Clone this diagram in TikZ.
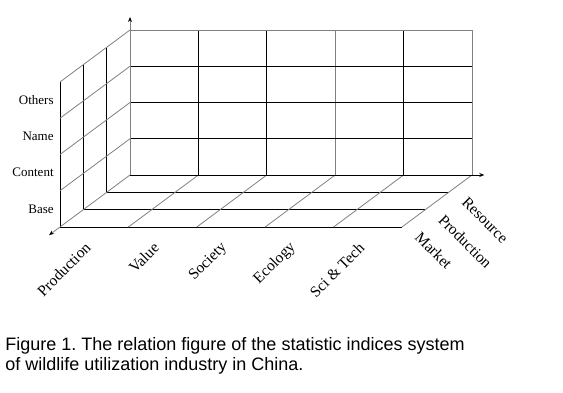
\documentclass[tikz,border=0pt]{standalone}
\usepackage{fontspec}
\setmainfont{Liberation Serif}
\newfontfamily\capfont{Liberation Sans}
\usetikzlibrary{arrows.meta}
\definecolor{gridgray}{gray}{0.5}
\frenchspacing
\begin{document}
\begin{tikzpicture}[>={Stealth[length=5pt,width=4pt,black]},line width=0.8pt,
  x={(68.4pt,0pt)},y={(0pt,36.25pt)},z={(-23.33pt,-17.33pt)},shift={(130pt,218pt)},
  lab/.style={inner sep=0pt,font=\fontsize{13pt}{15pt}\selectfont},
  rowlab/.style={lab,anchor=east},
  collab/.style={lab,anchor=east,rotate=45,font=\fontsize{15.5pt}{17pt}\selectfont},
  deplab/.style={lab,anchor=west,rotate=-45,font=\fontsize{15.5pt}{17pt}\selectfont},
  captext/.style={inner sep=0pt,anchor=base west,font=\capfont\fontsize{18pt}{20pt}\selectfont}]
  \useasboundingbox (-130pt,-218pt) rectangle (433pt,175pt);
  % back wall
  \foreach \c in {1,2,4} \draw (\c,0,0) -- (\c,4,0);
  \foreach \c in {3,5} \draw[gridgray] (\c,0,0) -- (\c,4,0);
  \foreach \r in {1,2,3} \draw (0,\r,0) -- (5,\r,0);
  \draw[gridgray] (0,4,0) -- (5,4,0);
  % floor
  \foreach \d in {1,2,3} \draw (0,0,\d) -- (5,0,\d);
  \foreach \c in {1,...,5} \draw[gridgray] (\c,0,0) -- (\c,0,3);
  % left wall
  \foreach \d in {1,2,3} \draw (0,0,\d) -- (0,4,\d);
  \foreach \r in {1,...,4} \draw[gridgray] (0,\r,0) -- (0,\r,3);
  % axes
  \draw[->,gridgray] (0,0,0) -- (0,4.36,0);
  \draw[->] (0,0,0) -- (5.18,0,0);
  \draw[->,gridgray] (0,0,0) -- (0,0,3.47);
  % labels
  \foreach \t [count=\i] in {Base,Content,Name,Others}
    \node[rowlab] (row\i) at ([xshift=-6pt]0,\i-0.5,3) {\t};
  \foreach \t [count=\i] in {Production,Value,Society,Ecology,Sci \& Tech}
    \node[collab] (col\i) at ([xshift=-6pt,yshift=-18pt]\i-0.5,0,3) {\t};
  \foreach \t [count=\i] in {Resource,Production,Market}
    \node[deplab] (dep\i) at ([xshift=4pt,yshift=-16pt]5,0,\i-0.5) {\t};
  \node[captext] (cap1) at (-125pt,-175.7pt) {Figure 1. The relation figure of the statistic indices system};
  \node[captext] (cap2) at (-125pt,-195.7pt) {of wildlife utilization industry in China.};
\end{tikzpicture}
\end{document}
